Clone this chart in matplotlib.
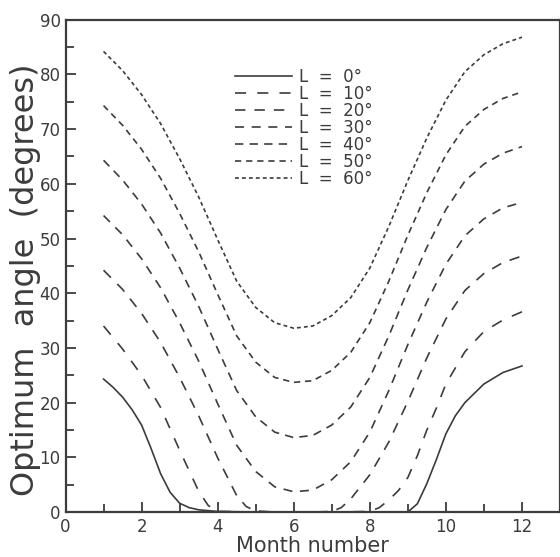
import matplotlib
matplotlib.use("Agg")
import matplotlib.pyplot as plt
from matplotlib.ticker import MultipleLocator

# readings (month, optimum tilt angle in degrees)
months = [1, 1.5, 2, 2.5, 3, 3.5, 4, 4.5, 5, 5.5, 6, 6.5,
          7, 7.5, 8, 8.5, 9, 9.5, 10, 10.5, 11, 11.5, 12]

L60 = [84.2, 80.7, 76.3, 71.0, 64.6, 57.6, 49.8, 42.2, 37.4, 34.6, 33.6, 34.0,
       35.9, 39.2, 44.6, 52.2, 60.6, 68.4, 75.3, 80.5, 83.6, 85.6, 86.8]
L50 = [74.3, 70.7, 66.3, 61.0, 54.6, 47.6, 39.8, 32.2, 27.4, 24.6, 23.7, 24.0,
       25.9, 29.2, 34.6, 42.2, 50.6, 58.4, 65.3, 70.5, 73.6, 75.6, 76.8]
L40 = [64.3, 60.7, 56.3, 51.0, 44.6, 37.6, 29.8, 22.2, 17.4, 14.6, 13.6, 14.0,
       15.9, 19.2, 24.6, 32.2, 40.6, 48.4, 55.3, 60.5, 63.6, 65.6, 66.8]
L30 = [54.2, 50.7, 46.3, 41.0, 34.6, 27.6, 19.8, 12.2, 7.4, 4.6, 3.7, 4.0,
       5.9, 9.2, 14.6, 22.2, 30.6, 38.4, 45.3, 50.5, 53.6, 55.6, 56.6]

months20 = [1, 1.5, 2, 2.5, 3, 3.5, 4, 4.5, 4.75, 5, 5.5, 6, 6.5, 7, 7.25,
            7.5, 8, 8.5, 9, 9.5, 10, 10.5, 11, 11.5, 12]
L20 = [44.2, 40.7, 36.3, 31.0, 24.6, 17.6, 9.9, 3.0, 1.0, 0.2, 0, 0, 0, 0.1, 0.8,
       2.4, 6.8, 12.8, 20.2, 28.2, 35.3, 40.5, 43.6, 45.6, 46.8]

months10 = [1, 1.5, 2, 2.5, 3, 3.5, 3.75, 4, 5, 6, 7, 8, 8.25, 8.5, 8.75,
            9, 9.25, 9.5, 9.75, 10, 10.5, 11, 11.5, 12]
L10 = [34.0, 29.8, 25.0, 19.1, 11.3, 3.8, 1.2, 0.1, 0, 0, 0, 0.1, 0.8, 2.2, 3.9,
       6.3, 10.3, 15.0, 19.0, 23.4, 29.3, 33.0, 35.1, 36.6]

months0 = [1, 1.25, 1.5, 1.75, 2, 2.25, 2.5, 2.75, 3, 3.25, 3.5, 4, 5, 6, 7, 8,
           9, 9.25, 9.5, 9.75, 10, 10.25, 10.5, 11, 11.5, 12]
L0 = [24.3, 22.8, 21.0, 18.7, 15.9, 11.6, 7.0, 3.6, 1.6, 0.8, 0.4, 0.1, 0, 0, 0, 0,
      0, 1.5, 5.2, 9.6, 14.3, 17.6, 20.0, 23.4, 25.5, 26.7]

labels = ["L  =  0°", "L  =  10°", "L  =  20°", "L  =  30°",
          "L  =  40°", "L  =  50°", "L  =  60°"]

ink = "#3c3c3c"
plt.rcParams["lines.scale_dashes"] = False

fig = plt.figure(figsize=(5.6, 5.57), dpi=100)
ax = fig.add_axes([0.1170, 0.0808, 0.8830, 0.8838])

series = [(months0, L0, "-"),
          (months10, L10, (0, (8, 8))),
          (months20, L20, (0, (7.5, 6.5))),
          (months, L30, (0, (6.5, 5.5))),
          (months, L40, (0, (6, 4.5))),
          (months, L50, (0, (4.5, 3.5))),
          (months, L60, (0, (2.8, 2.2)))]

for (x, y, ls), lab in zip(series, labels):
    ax.plot(x, y, color=ink, lw=1.2, linestyle=ls, label=lab)

ax.set_xlim(0, 13)
ax.set_ylim(0, 90)
ax.xaxis.set_major_locator(MultipleLocator(2))
ax.xaxis.set_minor_locator(MultipleLocator(1))
ax.yaxis.set_major_locator(MultipleLocator(10))
ax.yaxis.set_minor_locator(MultipleLocator(5))
ax.tick_params(which="both", direction="in", color=ink, width=1.3,
               labelcolor=ink, labelsize=12)
ax.tick_params(which="major", length=7)
ax.tick_params(which="minor", length=6)
ax.tick_params(axis="x", pad=4.5)
ax.tick_params(axis="y", pad=3.5)
for s in ax.spines.values():
    s.set_color(ink)
    s.set_linewidth(1.6)

ax.set_xlabel("Month number", fontsize=15, color=ink, labelpad=0)
ax.set_ylabel("Optimum  angle  (degrees)", fontsize=23, color=ink)
ax.yaxis.set_label_coords(-0.05, 0.471)

leg = ax.legend(loc="upper left", bbox_to_anchor=(0.343, 0.902), frameon=False,
                fontsize=12, handlelength=3.4, handletextpad=0.45,
                labelspacing=-0.06, borderaxespad=0, borderpad=0)
for t in leg.get_texts():
    t.set_color(ink)

fig.savefig("out.png", dpi=100)
